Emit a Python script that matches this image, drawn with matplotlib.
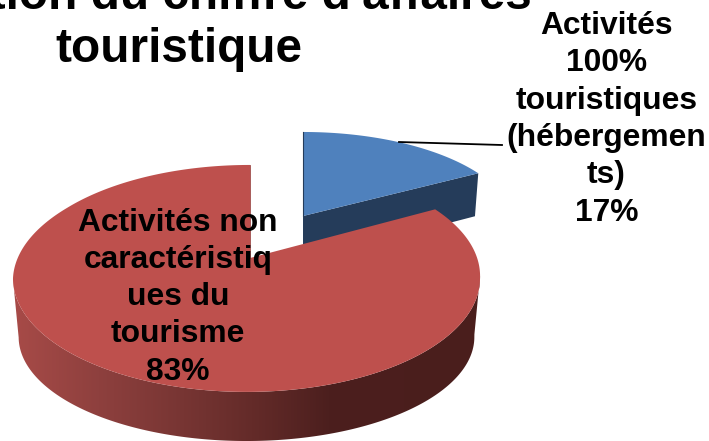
import numpy as np
import matplotlib.pyplot as plt
from matplotlib.patches import Polygon

title = "Répartition du chiffre d'affaires\ntouristique"
labels = ["Activités\n100%\ntouristiques\n(hébergemen\nts)\n17%",
          "Activités non\ncaractéristiq\nues du\ntourisme\n83%"]
values = [17, 83]

plt.rcParams['font.family'] = ['Liberation Sans', 'DejaVu Sans']

dpi = 100
fig = plt.figure(dpi=dpi, figsize=(709 / dpi, 441 / dpi))
ax = fig.add_axes([0, 0, 1, 1])


def project(t, cx, cy, a, b, k, lean=0.0):  # angle clockwise from top -> picture coords
    u = np.sin(t)
    v = np.cos(t)
    shift = lean * np.clip((0.5 - v) / 0.68, 0, 1)  # front of the pie sits a bit left
    return cx + shift + a * u / (1 + k * v), cy - b * v / (1 + k * v)


# slice angles come from the values
edges = 2 * np.pi * np.cumsum([0] + values) / sum(values)

# perspective of each disc: centre x, centre y, a, b, k, lean
blue_top = (303, 216, 211, 93.6, 0.114)
blue_low = (303, 261, 207, 98, 0.114)
red_top = (250, 258, 229.7, 109.8, 0.18, -3.5)
red_low = (250, 318, 224, 100.5, 0.183, -3.5)

# blue slice, pulled out of the pie
t = np.linspace(edges[0], edges[1], 80)
x, y = project(t, *blue_top)
x2, y2 = project(t, *blue_low)
ax.fill([blue_top[0], x[-1], x2[-1], blue_low[0]],
        [blue_top[1], y[-1], y2[-1], blue_low[1]], color='#253C5A', lw=0, zorder=1)
ax.fill(np.r_[blue_top[0], x], np.r_[blue_top[1], y], color='#4F81BD', lw=0, zorder=2)
ax.plot([x[0], blue_top[0]], [y[0], blue_top[1]], color='#253C5A', lw=0.8, zorder=2)

# red side, horizontal shading clipped to the silhouette of the rim
t = np.linspace(edges[1], edges[2], 600)
x, y = project(t, *red_top)
x2, y2 = project(t, *red_low)
r1, l1 = np.argmax(x), np.argmin(x)
r2, l2 = np.argmax(x2), np.argmin(x2)
grad_x = [13, 100, 200, 260, 330, 480]
grad_r = [168, 142, 115, 98, 76, 74]
grad_g = [75, 64, 51, 42, 31, 30]
grad_b = [72, 62, 49, 40, 30, 28]
px = np.arange(709) + 0.5
shade = np.dstack([np.interp(px, grad_x, c) for c in (grad_r, grad_g, grad_b)]).astype(np.uint8)
rim = Polygon(np.c_[np.r_[x[r1:l1 + 1], x2[r2:l2 + 1][::-1]], np.r_[y[r1:l1 + 1], y2[r2:l2 + 1][::-1]]],
              transform=ax.transData, fc='none', ec='none')
ax.add_patch(rim)
im = ax.imshow(shade, extent=(0, 709, 441, 0), aspect='auto', zorder=3, interpolation='bilinear')
im.set_clip_path(rim)

# red top face
ax.fill(np.r_[red_top[0], x], np.r_[red_top[1], y], color='#BE504D', lw=0, zorder=4)
ax.plot([x[-1], red_top[0]], [y[-1], red_top[1]], color='#9A3F3D', lw=0.6, zorder=4)

# leader line
ax.plot([399, 502], [142, 145], color='black', lw=1.3, zorder=5)

ax.text(178.5, -26, title, ha='center', va='top', fontsize=34.4, fontweight='bold',
        linespacing=1.22, zorder=6)
ax.text(606.5, 11, labels[0], ha='center', va='top', fontsize=22.9, fontweight='bold',
        linespacing=1.32, zorder=6)
ax.text(178, 208, labels[1], ha='center', va='top', fontsize=22.9, fontweight='bold',
        linespacing=1.31, zorder=6)

ax.set_xlim(0, 709)
ax.set_ylim(441, 0)
ax.axis('off')

fig.savefig('out.png', dpi=dpi)
